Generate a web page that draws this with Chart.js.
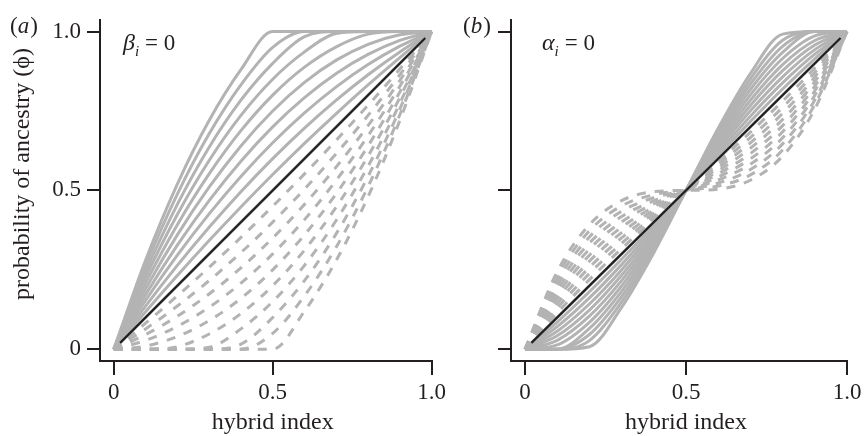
<!DOCTYPE html>
<html>
<head>
<meta charset="utf-8">
<script src="https://cdn.jsdelivr.net/npm/chart.js@4/dist/chart.umd.min.js"></script>
<style>
  html, body { margin: 0; padding: 0; background: #ffffff; font-family: "Liberation Serif", serif; }
  #wrap { position: relative; width: 867px; height: 436px; overflow: hidden; }
  .panel { position: absolute; top: 0; height: 436px; }
  #pa { left: 0; width: 450px; }
  #pb { left: 450px; width: 417px; }
</style>
</head>
<body>
<div id="wrap">
  <div class="panel" id="pa"><canvas id="ca"></canvas></div>
  <div class="panel" id="pb"><canvas id="cb"></canvas></div>
</div>
<script>
// ---------- data ----------
const hybridIndex = [0, 0.1, 0.2, 0.3, 0.4, 0.5, 0.6, 0.7, 0.8, 0.9, 1];

// panel (a): beta_i = 0, alpha_i varies
const alphaSolid = [1.0, 0.9, 0.8, 0.7, 0.6, 0.5, 0.4, 0.3, 0.2, 0.1, 0.0];
const phiAlphaSolid = [
  [0, 0.28, 0.52, 0.72, 0.88, 1.00, 1.00, 1.00, 1.00, 1.00, 1],
  [0, 0.262, 0.488, 0.678, 0.832, 0.95, 1.00, 1.00, 1.00, 1.00, 1],
  [0, 0.244, 0.456, 0.636, 0.784, 0.90, 0.984, 1.00, 1.00, 1.00, 1],
  [0, 0.226, 0.424, 0.594, 0.736, 0.85, 0.936, 0.994, 1.00, 1.00, 1],
  [0, 0.208, 0.392, 0.552, 0.688, 0.80, 0.888, 0.952, 0.992, 1.00, 1],
  [0, 0.19, 0.36, 0.51, 0.64, 0.75, 0.84, 0.91, 0.96, 0.99, 1],
  [0, 0.172, 0.328, 0.468, 0.592, 0.70, 0.792, 0.868, 0.928, 0.972, 1],
  [0, 0.154, 0.296, 0.426, 0.544, 0.65, 0.744, 0.826, 0.896, 0.954, 1],
  [0, 0.136, 0.264, 0.384, 0.496, 0.60, 0.696, 0.784, 0.864, 0.936, 1],
  [0, 0.118, 0.232, 0.342, 0.448, 0.55, 0.648, 0.742, 0.832, 0.918, 1],
  [0, 0.1, 0.2, 0.3, 0.4, 0.5, 0.6, 0.7, 0.8, 0.9, 1]
];
const alphaDashed = [-0.1, -0.2, -0.3, -0.4, -0.5, -0.6, -0.7, -0.8, -0.9, -1.0];
const phiAlphaDashed = [
  [0, 0.082, 0.168, 0.258, 0.352, 0.45, 0.552, 0.658, 0.768, 0.882, 1],
  [0, 0.064, 0.136, 0.216, 0.304, 0.40, 0.504, 0.616, 0.736, 0.864, 1],
  [0, 0.046, 0.104, 0.174, 0.256, 0.35, 0.456, 0.574, 0.704, 0.846, 1],
  [0, 0.028, 0.072, 0.132, 0.208, 0.30, 0.408, 0.532, 0.672, 0.828, 1],
  [0, 0.01, 0.04, 0.09, 0.16, 0.25, 0.36, 0.49, 0.64, 0.81, 1],
  [0, 0, 0.008, 0.048, 0.112, 0.20, 0.312, 0.448, 0.608, 0.792, 1],
  [0, 0, 0, 0.006, 0.064, 0.15, 0.264, 0.406, 0.576, 0.774, 1],
  [0, 0, 0, 0, 0.016, 0.10, 0.216, 0.364, 0.544, 0.756, 1],
  [0, 0, 0, 0, 0, 0.05, 0.168, 0.322, 0.512, 0.738, 1],
  [0, 0, 0, 0, 0, 0, 0.12, 0.28, 0.48, 0.72, 1]
];

// panel (b): alpha_i = 0, beta_i varies
const betaSolid = [1.0, 0.9, 0.8, 0.7, 0.6, 0.5, 0.4, 0.3, 0.2, 0.1, 0.0];
const phiBetaSolid = [
  [0, 0, 0.008, 0.132, 0.304, 0.5, 0.696, 0.868, 0.992, 1, 1],
  [0, 0, 0.0272, 0.1488, 0.3136, 0.5, 0.6864, 0.8512, 0.9728, 1, 1],
  [0, 0, 0.0464, 0.1656, 0.3232, 0.5, 0.6768, 0.8344, 0.9536, 1, 1],
  [0, 0, 0.0656, 0.1824, 0.3328, 0.5, 0.6672, 0.8176, 0.9344, 1, 1],
  [0, 0.0136, 0.0848, 0.1992, 0.3424, 0.5, 0.6576, 0.8008, 0.9152, 0.9864, 1],
  [0, 0.028, 0.104, 0.216, 0.352, 0.5, 0.648, 0.784, 0.896, 0.972, 1],
  [0, 0.0424, 0.1232, 0.2328, 0.3616, 0.5, 0.6384, 0.7672, 0.8768, 0.9576, 1],
  [0, 0.0568, 0.1424, 0.2496, 0.3712, 0.5, 0.6288, 0.7504, 0.8576, 0.9432, 1],
  [0, 0.0712, 0.1616, 0.2664, 0.3808, 0.5, 0.6192, 0.7336, 0.8384, 0.9288, 1],
  [0, 0.0856, 0.1808, 0.2832, 0.3904, 0.5, 0.6096, 0.7168, 0.8192, 0.9144, 1],
  [0, 0.1, 0.2, 0.3, 0.4, 0.5, 0.6, 0.7, 0.8, 0.9, 1]
];
const betaDashed = [-0.1, -0.2, -0.3, -0.4, -0.5, -0.6, -0.7, -0.8, -0.9, -1.0];
const phiBetaDashed = [
  [0, 0.1144, 0.2192, 0.3168, 0.4096, 0.5, 0.5904, 0.6832, 0.7808, 0.8856, 1],
  [0, 0.1288, 0.2384, 0.3336, 0.4192, 0.5, 0.5808, 0.6664, 0.7616, 0.8712, 1],
  [0, 0.1432, 0.2576, 0.3504, 0.4288, 0.5, 0.5712, 0.6496, 0.7424, 0.8568, 1],
  [0, 0.1576, 0.2768, 0.3672, 0.4384, 0.5, 0.5616, 0.6328, 0.7232, 0.8424, 1],
  [0, 0.172, 0.296, 0.384, 0.448, 0.5, 0.552, 0.616, 0.704, 0.828, 1],
  [0, 0.1864, 0.3152, 0.4008, 0.4576, 0.5, 0.5424, 0.5992, 0.6848, 0.8136, 1],
  [0, 0.2008, 0.3344, 0.4176, 0.4672, 0.5, 0.5328, 0.5824, 0.6656, 0.7992, 1],
  [0, 0.2152, 0.3536, 0.4344, 0.4768, 0.5, 0.5232, 0.5656, 0.6464, 0.7848, 1],
  [0, 0.2296, 0.3728, 0.4512, 0.4864, 0.5, 0.5136, 0.5488, 0.6272, 0.7704, 1],
  [0, 0.244, 0.392, 0.468, 0.496, 0.5, 0.504, 0.532, 0.608, 0.756, 1]
];

// black reference line
const refLineX = [0.02, 0.98];
const refLineY = [0.02, 0.98];

// axes
const xTickValues = [0, 0.5, 1];
const xTickLabels = ['0', '0.5', '1.0'];
const yTickValues = [0, 0.5, 1];
const yTickLabelsA = ['0', '0.5', '1.0'];
const yTickLabelsB = ['', '', ''];
const xAxisTitle = 'hybrid index';
const yAxisTitle = 'probability of ancestry (\u03d5)';

// ---------- styling ----------
const INK = '#231f20';
const GREY = '#b3b3b3';
const FONT = '"Liberation Serif", "Times New Roman", serif';
Chart.defaults.font.family = FONT;
Chart.defaults.font.size = 23;
Chart.defaults.color = INK;

function pts(ys) { return ys.map((y, i) => ({ x: hybridIndex[i], y: y })); }

function curveSets(solid, dashed, refX, refY) {
  const sets = [];
  sets.push({
    data: refX.map((x, i) => ({ x: x, y: refY[i] })),
    borderColor: INK, borderWidth: 2.2, order: 0
  });
  solid.forEach(ys => sets.push({
    data: pts(ys), borderColor: GREY, borderWidth: 3, order: 1
  }));
  dashed.forEach(ys => sets.push({
    data: pts(ys), borderColor: GREY, borderWidth: 3, order: 2,
    borderDash: [9, 9], borderCapStyle: 'butt'
  }));
  return sets;
}

function drawItalicMix(ctx, parts, x, y) {
  let cx = x;
  parts.forEach(p => {
    ctx.font = p.font;
    ctx.fillText(p.t, cx, y + (p.dy || 0));
    cx += ctx.measureText(p.t).width + (p.after || 0);
  });
}

const textPlugin = {
  id: 'panelTexts',
  afterDraw(chart, args, o) {
    const ctx = chart.ctx;
    const xs = chart.scales.x;
    ctx.save();
    ctx.fillStyle = INK;
    ctx.textBaseline = 'alphabetic';
    ctx.font = '24px ' + FONT;
    ctx.textAlign = 'center';
    ctx.fillText(xAxisTitle, xs.getPixelForValue(0.5), 429);
    if (o.yTitle) {
      ctx.save();
      ctx.translate(29, 174);
      ctx.rotate(-Math.PI / 2);
      ctx.fillText(yAxisTitle, 0, 0);
      ctx.restore();
    }
    ctx.textAlign = 'left';
    drawItalicMix(ctx, [
      { t: '(', font: '23px ' + FONT },
      { t: o.letter, font: 'italic 23px ' + FONT, after: 1 },
      { t: ')', font: '23px ' + FONT }
    ], o.letterX, 33);
    drawItalicMix(ctx, [
      { t: o.sym, font: 'italic 24px ' + FONT },
      { t: 'i', font: 'italic 15px ' + FONT, dy: 6, after: 6 },
      { t: '= 0', font: '23px ' + FONT }
    ], o.noteX, 50);
    ctx.restore();
  }
};

function makeChart(id, sets, yLabels, yWidth, padRight, xMin, plugOpts) {
  return new Chart(document.getElementById(id), {
    type: 'line',
    data: { datasets: sets },
    plugins: [textPlugin],
    options: {
      responsive: true,
      maintainAspectRatio: false,
      animation: false,
      events: [],
      layout: { padding: { top: 13, right: padRight, left: 0, bottom: 0 } },
      elements: {
        point: { radius: 0 },
        line: { cubicInterpolationMode: 'monotone', fill: false }
      },
      datasets: { line: { clip: false } },
      plugins: {
        legend: { display: false },
        tooltip: { enabled: false },
        panelTexts: plugOpts
      },
      scales: {
        x: {
          type: 'linear', min: xMin, max: 1,
          afterBuildTicks: s => { s.ticks = xTickValues.map(v => ({ value: v })); },
          afterFit: s => { s.height = 75; },
          border: { display: true, color: INK, width: 2 },
          grid: { display: true, drawOnChartArea: false, drawTicks: true, tickLength: 14, color: INK, lineWidth: 2 },
          ticks: {
            autoSkip: false, maxRotation: 0, padding: 4,
            callback: (v, i) => xTickLabels[i]
          }
        },
        y: {
          type: 'linear', min: -0.037037, max: 1.037037,
          afterBuildTicks: s => { s.ticks = yTickValues.map(v => ({ value: v })); },
          afterFit: s => { s.width = yWidth; },
          border: { display: true, color: INK, width: 2 },
          grid: { display: true, drawOnChartArea: false, drawTicks: true, tickLength: 13, color: INK, lineWidth: 2 },
          ticks: {
            autoSkip: false, padding: 6,
            callback: (v, i) => yLabels[i]
          }
        }
      }
    }
  });
}

function build() {
  makeChart('ca', curveSets(phiAlphaSolid, phiAlphaDashed, refLineX, refLineY),
    yTickLabelsA, 100, 13, -0.04334,
    { letter: 'a', letterX: 10, sym: '\u03b2', noteX: 123, yTitle: true });
  makeChart('cb', curveSets(phiBetaSolid, phiBetaDashed, refLineX, refLineY),
    yTickLabelsB, 61, 20, -0.04348,
    { letter: 'b', letterX: 13, sym: '\u03b1', noteX: 92, yTitle: false });
}

const fontLoads = [
  '23px "Liberation Serif"', 'italic 23px "Liberation Serif"',
  'italic 24px "Liberation Serif"', 'italic 15px "Liberation Serif"'
].map(f => document.fonts.load(f, 'hybrid index \u03b1\u03b2\u03d5 0.5'));
Promise.all(fontLoads).then(build, build);
</script>
</body>
</html>
